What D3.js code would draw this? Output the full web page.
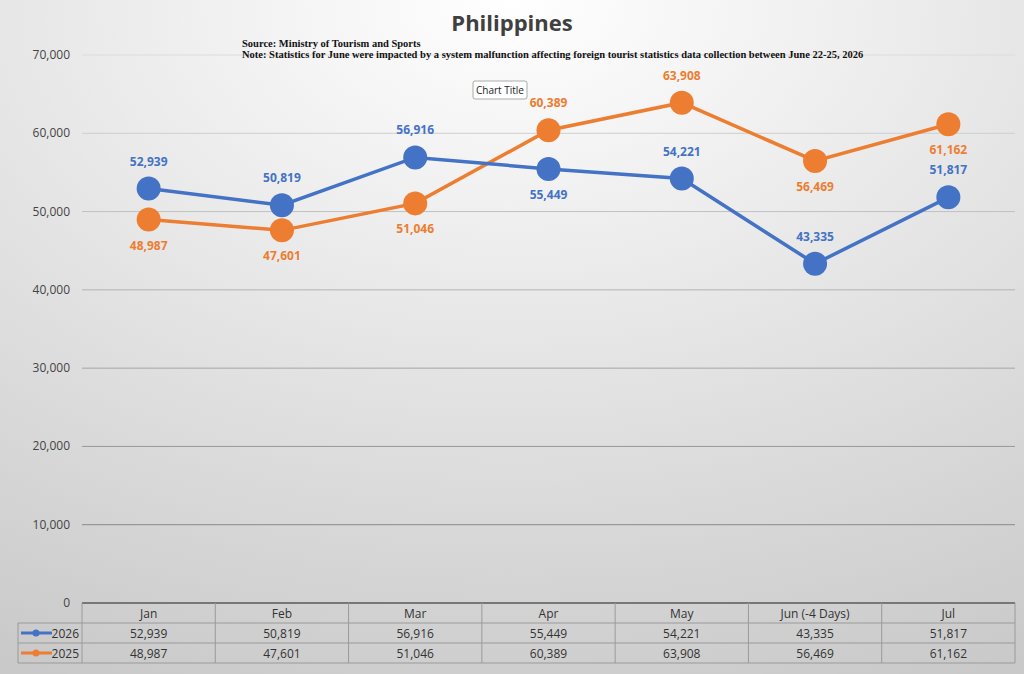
<!DOCTYPE html>
<html lang="en">
<head>
<meta charset="utf-8">
<title>Philippines</title>
<style>
  body { margin: 0; }
  svg { font-family: "Open Sans", "Noto Sans", sans-serif; }
</style>
</head>
<body>
<script src="https://cdn.jsdelivr.net/npm/d3@7/dist/d3.min.js"></script>
<script>
const months = ["Jan", "Feb", "Mar", "Apr", "May", "Jun (-4 Days)", "Jul"];
const values2026 = [52939, 50819, 56916, 55449, 54221, 43335, 51817];
const values2025 = [48987, 47601, 51046, 60389, 63908, 56469, 61162];
const yTicks = [0, 10000, 20000, 30000, 40000, 50000, 60000, 70000];

const series = [
  {name: "2026", values: values2026, color: "#4472c4", labelBelow: [false, false, false, true, false, false, false]},
  {name: "2025", values: values2025, color: "#ed7d31", labelBelow: [true, true, true, false, false, true, true]}
];

const W = 1024, H = 674;
const plotLeft = 82, plotRight = 1015, plotTop = 55, plotBottom = 603;

const svg = d3.select("body").append("svg").attr("width", W).attr("height", H);

// background gradient
const grad = svg.append("defs").append("radialGradient").attr("id", "bg")
  .attr("cx", "50%").attr("cy", "0%").attr("r", "110%");
grad.append("stop").attr("offset", "0%").attr("stop-color", "#ffffff");
grad.append("stop").attr("offset", "100%").attr("stop-color", "#c9c9c9");
svg.append("rect").attr("width", W).attr("height", H).attr("fill", "url(#bg)");

const x = d3.scaleBand().domain(months).range([plotLeft, plotRight]);
const y = d3.scaleLinear().domain([0, 70000]).range([plotBottom, plotTop]);
const fmt = d3.format(",");

// gridlines + y labels
svg.append("g").selectAll("line").data(yTicks.slice(1)).join("line")
  .attr("x1", plotLeft).attr("x2", plotRight)
  .attr("y1", d => y(d)).attr("y2", d => y(d))
  .attr("stroke", (d, i) => d3.interpolateRgb("#8a8a8a", "#dcdcdc")(i / 6)).attr("stroke-width", 1);
svg.append("g").selectAll("text").data(yTicks).join("text")
  .attr("x", 70).attr("y", d => y(d) + 4).attr("text-anchor", "end")
  .attr("font-size", 12).attr("fill", "#444").text(d => fmt(d));

// title and notes
svg.append("text").attr("x", 512).attr("y", 31).attr("text-anchor", "middle")
  .attr("font-size", 22).attr("font-weight", "bold").attr("fill", "#404040").text("Philippines");
svg.append("text").attr("x", 242).attr("y", 47).attr("font-family", "Liberation Serif, serif")
  .attr("font-size", 10.5).attr("font-weight", "bold").attr("fill", "#111").text("Source: Ministry of Tourism and Sports");
svg.append("text").attr("x", 242).attr("y", 58).attr("font-family", "Liberation Serif, serif")
  .attr("font-size", 10.5).attr("font-weight", "bold").attr("fill", "#111")
  .text("Note: Statistics for June were impacted by a system malfunction affecting foreign tourist statistics data collection between June 22-25, 2026");

// "Chart Title" tag
svg.append("rect").attr("x", 473).attr("y", 81).attr("width", 54).attr("height", 18)
  .attr("fill", "#fff").attr("stroke", "#aaa").attr("rx", 2);
svg.append("text").attr("x", 500).attr("y", 94).attr("text-anchor", "middle")
  .attr("font-size", 10).attr("fill", "#222").text("Chart Title");

// lines
const cx = m => x(m) + x.bandwidth() / 2;
const line = d3.line().x((d, i) => cx(months[i])).y(d => y(d));
series.slice().reverse().forEach(s => {
  const g = svg.append("g");
  g.append("path").datum(s.values).attr("d", line).attr("fill", "none")
    .attr("stroke", s.color).attr("stroke-width", 3.5);
  g.selectAll("circle").data(s.values).join("circle")
    .attr("cx", (d, i) => cx(months[i])).attr("cy", d => y(d)).attr("r", 12).attr("fill", s.color);
  g.selectAll("text").data(s.values).join("text")
    .attr("x", (d, i) => cx(months[i]))
    .attr("y", (d, i) => y(d) + (s.labelBelow[i] ? 30 : -23))
    .attr("text-anchor", "middle").attr("font-size", 12).attr("font-weight", "bold")
    .attr("fill", s.color).text(d => fmt(d));
});

// data table
const rowH = 20;
const tbl = svg.append("g").attr("font-size", 12).attr("fill", "#333");
tbl.append("line").attr("x1", plotLeft).attr("x2", plotRight).attr("y1", plotBottom).attr("y2", plotBottom)
  .attr("stroke", "#777").attr("stroke-width", 2);
const gray = "#9a9a9a";
[plotBottom + rowH, plotBottom + 2 * rowH, plotBottom + 3 * rowH].forEach(yy =>
  tbl.append("line").attr("x1", 18).attr("x2", plotRight).attr("y1", yy).attr("y2", yy).attr("stroke", gray));
months.concat(["end"]).forEach((m, i) => {
  const xx = i < months.length ? x(m) : plotRight;
  tbl.append("line").attr("x1", xx).attr("x2", xx).attr("y1", plotBottom).attr("y2", plotBottom + 3 * rowH).attr("stroke", gray);
});
tbl.append("line").attr("x1", 18).attr("x2", 18).attr("y1", plotBottom + rowH).attr("y2", plotBottom + 3 * rowH).attr("stroke", gray);
tbl.selectAll(".hdr").data(months).join("text").attr("class", "hdr")
  .attr("x", m => cx(m)).attr("y", plotBottom + 15).attr("text-anchor", "middle").text(m => m);
series.forEach((s, r) => {
  const yy = plotBottom + rowH * (r + 1);
  tbl.append("line").attr("x1", 21).attr("x2", 52).attr("y1", yy + 10).attr("y2", yy + 10)
    .attr("stroke", s.color).attr("stroke-width", 3);
  tbl.append("circle").attr("cx", 36).attr("cy", yy + 10).attr("r", 3.5).attr("fill", s.color);
  tbl.append("text").attr("x", 79).attr("y", yy + 15).attr("text-anchor", "end").text(s.name);
  tbl.selectAll(".v" + r).data(s.values).join("text").attr("class", "v" + r)
    .attr("x", (d, i) => cx(months[i])).attr("y", yy + 15).attr("text-anchor", "middle").text(d => fmt(d));
});
</script>
</body>
</html>
